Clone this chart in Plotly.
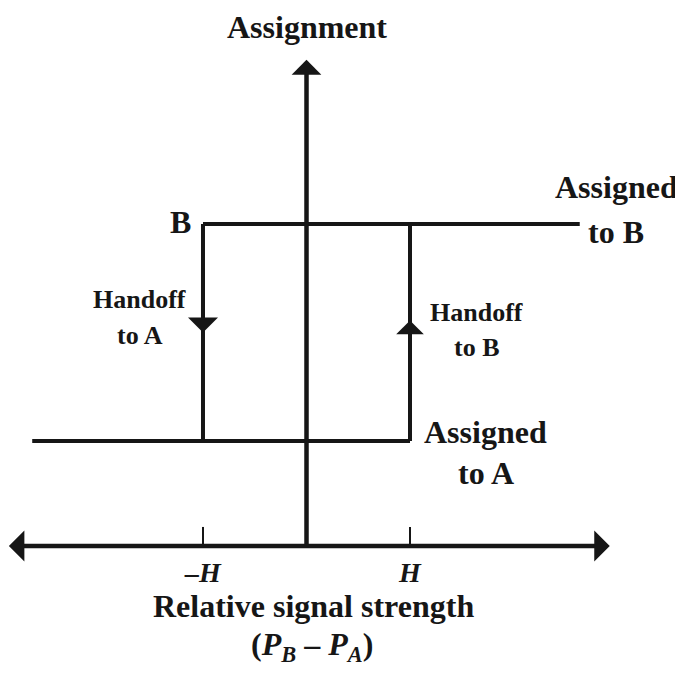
import plotly.graph_objects as go

# hysteresis handoff diagram: x = relative signal strength in units of H,
# y = assignment level (0 = assigned to A, 1 = assigned to B)
H = 1.0
level_a = 0.0
level_b = 1.0

assigned_a_x = [-2.65, H]
assigned_a_y = [level_a, level_a]
assigned_b_x = [-H, 2.64]
assigned_b_y = [level_b, level_b]
handoff_x = [-H, H]
handoff_arrow_y = [0.50, 0.555]   # tip of the down arrow (to A) and up arrow (to B)

axis_x = [-2.89, 2.93]
axis_y = -0.484
yaxis_top = 1.756
tick_x = [-H, H]
tick_labels = ["–H", "H"]

INK = "#161616"
FONT = "Liberation Serif"

fig = go.Figure()

# the loop
fig.add_trace(go.Scatter(x=assigned_a_x, y=assigned_a_y, mode="lines",
                         line=dict(color=INK, width=4), hoverinfo="skip"))
fig.add_trace(go.Scatter(x=assigned_b_x, y=assigned_b_y, mode="lines",
                         line=dict(color=INK, width=4), hoverinfo="skip"))
for hx in handoff_x:
    fig.add_trace(go.Scatter(x=[hx, hx], y=[level_a, level_b], mode="lines",
                             line=dict(color=INK, width=4), hoverinfo="skip"))

# tick marks on the horizontal axis
for tx in tick_x:
    fig.add_trace(go.Scatter(x=[tx, tx], y=[axis_y, axis_y + 0.088], mode="lines",
                             line=dict(color=INK, width=2), hoverinfo="skip"))

arrow = dict(showarrow=True, text="", xref="x", yref="y", axref="x", ayref="y",
             arrowcolor=INK, arrowwidth=4.5, arrowhead=1, arrowsize=1.15)

# axes
fig.add_annotation(x=axis_x[1], y=axis_y, ax=axis_x[0], ay=axis_y,
                   arrowside="end+start", startarrowhead=1, startarrowsize=1.15, **arrow)
fig.add_annotation(x=0, y=yaxis_top, ax=0, ay=axis_y, **{**arrow, "arrowsize": 1.1})

# handoff direction arrows
fig.add_annotation(x=-H, y=handoff_arrow_y[0], ax=-H, ay=0.8,
                   **{**arrow, "arrowwidth": 4, "arrowsize": 1.25})
fig.add_annotation(x=H, y=handoff_arrow_y[1], ax=H, ay=0.25,
                   **{**arrow, "arrowwidth": 4, "arrowsize": 1.15})


def label(x, y, text, size, **kw):
    fig.add_annotation(x=x, y=y, xref="x", yref="y", showarrow=False,
                       text="<b>" + text + "</b>",
                       font=dict(family=FONT, color=INK, size=size), **kw)


label(0, 1.908, "Assignment", 32)
label(-1.213, 1.009, "B", 32)
label(-1.609, 0.654, "Handoff", 26)
label(-1.609, 0.484, "to A", 26)
label(1.647, 0.590, "Handoff", 26)
label(1.647, 0.429, "to B", 26)
label(2.995, 1.171, "Assigned", 32)
label(2.995, 0.963, "to B", 32)
label(1.734, 0.041, "Assigned", 32)
label(1.734, -0.147, "to A", 32)
for tx, tl in zip(tick_x, tick_labels):
    label(tx, -0.604, "<i>" + tl + "</i>", 28)
label(0.072, -0.760, "Relative signal strength", 32)
label(0.052, -0.945, "(<i>P</i><sub><i>B</i></sub> – <i>P</i><sub><i>A</i></sub>)", 32)

# the page adds an 8 px body margin, so the ranges are shifted by that much
fig.update_layout(
    width=683, height=675,
    margin=dict(l=0, r=0, t=0, b=0),
    paper_bgcolor="white", plot_bgcolor="white",
    showlegend=False,
    xaxis=dict(range=[-2.884, 3.715], visible=False, fixedrange=True),
    yaxis=dict(range=[-1.115, 1.995], visible=False, fixedrange=True),
)

fig.write_html("out.html")
